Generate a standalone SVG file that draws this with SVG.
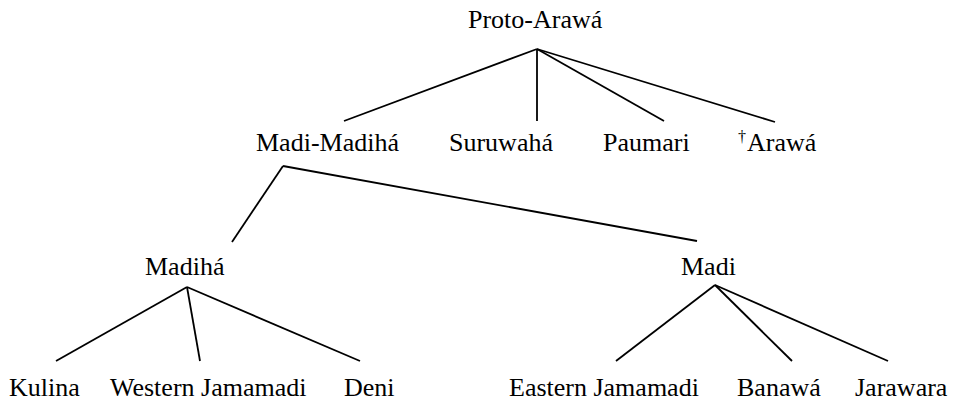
<svg xmlns="http://www.w3.org/2000/svg" width="953" height="401" viewBox="0 0 953 401">
<style>
  text { font-family: "Liberation Serif", "Times New Roman", serif; font-size: 26px; fill: #000; }
  tspan { fill: #000; }
  .edge { stroke: #000; stroke-width: 1.8; fill: none; stroke-linecap: butt; }
  .dag { font-size: 16px; font-family: "Liberation Serif", "DejaVu Serif", serif; }
</style>
<rect width="953" height="401" fill="#fff"/>
<g id="connectors">
  <line class="edge" x1="537" y1="49" x2="344" y2="121"/>
  <line class="edge" x1="537" y1="49" x2="537" y2="121"/>
  <line class="edge" x1="537" y1="49" x2="664" y2="121"/>
  <line class="edge" x1="537" y1="49" x2="775" y2="122"/>
  <line class="edge" x1="283" y1="166" x2="232" y2="242"/>
  <line class="edge" x1="283" y1="166" x2="697" y2="241"/>
  <line class="edge" x1="187" y1="287" x2="56" y2="361"/>
  <line class="edge" x1="187" y1="287" x2="200" y2="361"/>
  <line class="edge" x1="187" y1="287" x2="360" y2="361"/>
  <line class="edge" x1="715" y1="285" x2="616" y2="361"/>
  <line class="edge" x1="715" y1="285" x2="792" y2="361"/>
  <line class="edge" x1="715" y1="285" x2="888" y2="361"/>
</g>
<g id="proto-arawa"><text x="468" y="28">Proto-Arawá</text></g>
<g id="madi-madiha"><text x="256" y="151">Madi-Madihá</text></g>
<g id="suruwaha"><text x="449" y="151">Suruwahá</text></g>
<g id="paumari"><text x="603" y="151">Paumari</text></g>
<g id="arawa"><text x="738" y="151"><tspan class="dag" dy="-9">†</tspan><tspan dy="9" dx="1">Arawá</tspan></text></g>
<g id="madiha"><text x="145" y="275">Madihá</text></g>
<g id="madi"><text x="681" y="275">Madi</text></g>
<g id="kulina"><text x="9" y="396">Kulina</text></g>
<g id="western-jamamadi"><text x="110" y="396">Western Jamamadi</text></g>
<g id="deni"><text x="344" y="396">Deni</text></g>
<g id="eastern-jamamadi"><text x="509" y="396">Eastern Jamamadi</text></g>
<g id="banawa"><text x="737" y="396">Banawá</text></g>
<g id="jarawara"><text x="855" y="396">Jarawara</text></g>
</svg>
